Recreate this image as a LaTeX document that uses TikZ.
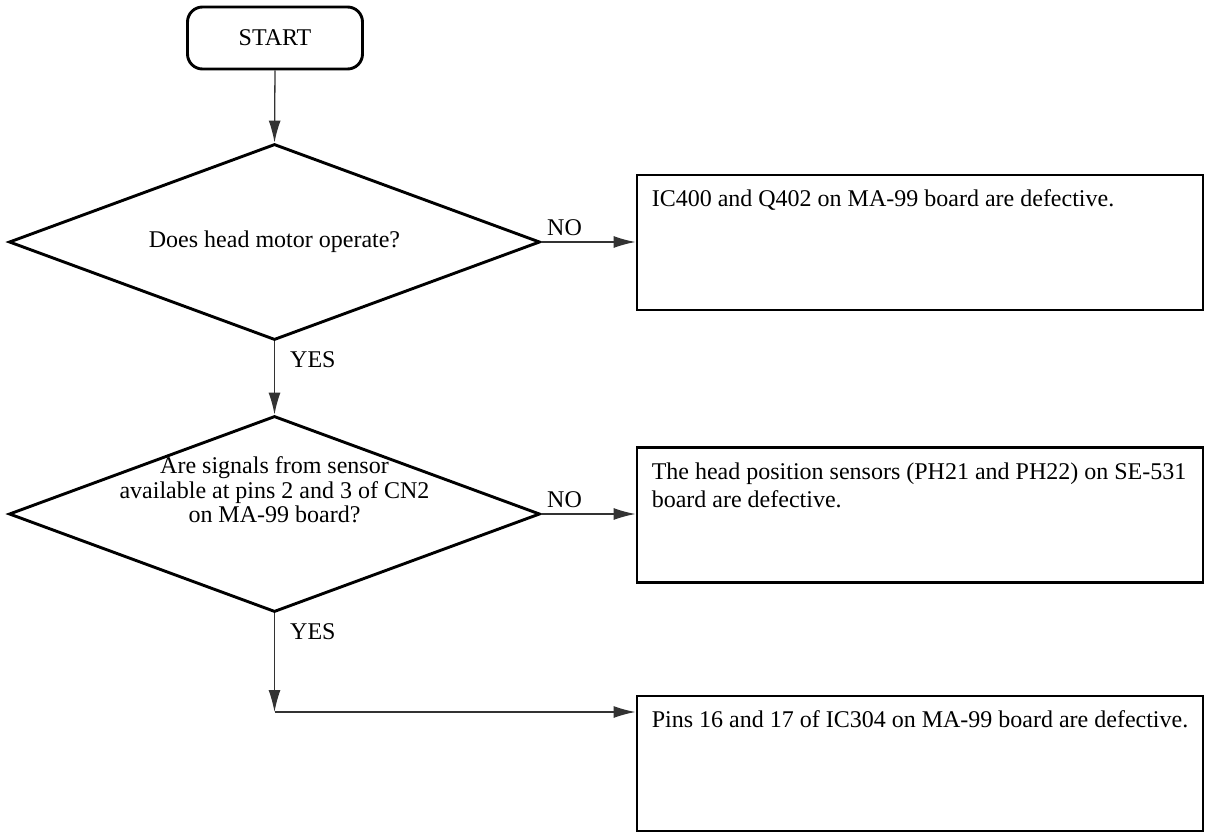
\documentclass[tikz,border=0pt]{standalone}
\usepackage{fontspec}
\setmainfont{Liberation Serif}
\usetikzlibrary{shapes.geometric,arrows.meta,calc}
\begin{document}
\begin{tikzpicture}[x=1pt,y=-1pt,
  every node/.style={font=\fontsize{24}{27}\selectfont},
  shapeline/.style={draw=black,line width=2.9pt},
  startbox/.style={shapeline,rounded corners=15pt,minimum width=175pt,minimum height=62pt,inner sep=0pt},
  decision/.style={shapeline,diamond,inner sep=0pt,aspect=2.7,minimum width=531pt,minimum height=196pt,align=center},
  resultbox/.style={shapeline,minimum width=566pt,minimum height=135pt,inner sep=0pt},
  boxtext/.style={inner sep=0pt,anchor=base west,align=left,font=\fontsize{24}{28}\selectfont},
  conn/.style={line width=1.3pt,draw=black!80,-{Latex[length=22pt,width=12pt]}},
  lbl/.style={inner sep=0pt,anchor=base west},
]
\useasboundingbox (0,0) rectangle (1207,833);

\node[startbox] (start) at (275,38) {START};
\node[decision] (d1) at (274.5,242) {Does head motor operate?};
\node[decision] (d2) at (274.5,514) {};
\node[align=center,font=\fontsize{24}{24.5}\selectfont] (d2t) at (274.5,490) {Are signals from sensor\\available at pins 2 and 3 of CN2\\on MA-99 board?};

\node[resultbox] (b1) at (920,242.5) {};
\node[resultbox] (b2) at (920,515) {};
\node[resultbox] (b3) at (920,763.5) {};

\node[boxtext] (b1t) at ($(b1.north west)+(16,33)$) {IC400 and Q402 on MA-99 board are defective.};
\node[boxtext] (b2t) at ($(b2.north west)+(16,33)$) {The head position sensors (PH21 and PH22) on SE-531};
\node[boxtext] (b2u) at ($(b2t.base west)+(0,28)$) {board are defective.};
\node[boxtext] (b3t) at ($(b3.north west)+(16,33)$) {Pins 16 and 17 of IC304 on MA-99 board are defective.};

\coordinate (c1) at (274.5,712);

\draw[conn] (start.south) -- (d1.north);
\draw[conn] (d1.east) -- (d1.east -| b1.west);
\draw[conn] (d1.south) -- (d2.north);
\draw[conn] (d2.east) -- (d2.east -| b2.west);
\draw[conn] (d2.south) -- (c1);
\draw[conn] (c1) -- (c1 -| b3.west);

\node[lbl] (no1) at (547,235) {NO};
\node[lbl] (no2) at (547,507) {NO};
\node[lbl] (yes1) at (290,367) {YES};
\node[lbl] (yes2) at (290,639) {YES};
\end{tikzpicture}
\end{document}
